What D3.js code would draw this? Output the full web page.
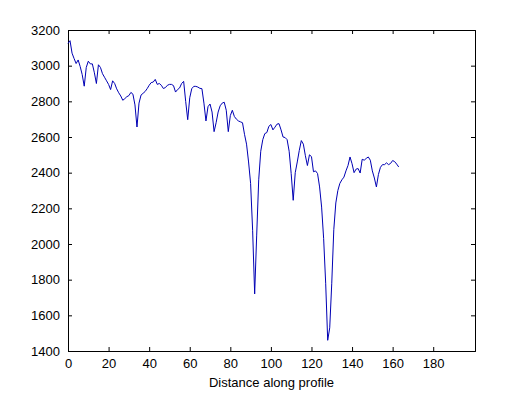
<!DOCTYPE html>
<html>
<head>
<meta charset="utf-8">
<script src="https://cdn.jsdelivr.net/npm/d3@7"></script>
<style>
  body { margin: 0; background: #fff; }
  svg text { font-family: "Liberation Sans", Arial, Helvetica, sans-serif; font-size: 13px; fill: #000; }
</style>
</head>
<body>
<div id="chart"></div>
<script>
// profile elevations, one reading per unit of distance (0..163)
var distance = d3.range(0, 164);
var elevation = [
  3125, 3140, 3070, 3040, 3012, 3032, 2995, 2950, 2885, 2990,
  3025, 3010, 3010, 2960, 2900, 3005, 2990, 2955, 2935, 2915,
  2895, 2866, 2915, 2900, 2870, 2848, 2830, 2806, 2815, 2826,
  2832, 2850, 2840, 2780, 2656, 2790, 2835, 2845, 2855, 2871,
  2890, 2905, 2908, 2923, 2895, 2900, 2890, 2872, 2877, 2890,
  2895, 2895, 2888, 2852, 2866, 2875, 2900, 2912, 2800, 2697,
  2820, 2871, 2884, 2884, 2880, 2873, 2871, 2790, 2690, 2770,
  2785, 2740, 2630, 2680, 2740, 2775, 2790, 2795, 2750, 2630,
  2720, 2750, 2715, 2700, 2690, 2685, 2680, 2615, 2560, 2460,
  2340, 2077, 1720, 2050, 2360, 2520, 2585, 2619, 2625, 2660,
  2670, 2640, 2655, 2672, 2675, 2640, 2600, 2597, 2585, 2520,
  2395, 2245, 2400, 2460, 2525, 2580, 2560, 2495, 2440, 2500,
  2490, 2405, 2410, 2395, 2320, 2207, 2030, 1780, 1460, 1530,
  1780, 2080, 2230, 2300, 2340, 2360, 2375, 2410, 2440, 2488,
  2450, 2400, 2420, 2423, 2398, 2475, 2470, 2480, 2488, 2470,
  2410, 2370, 2320, 2390, 2430, 2445, 2445, 2455, 2445, 2452,
  2468, 2462, 2448, 2432
];
var xTicks = [0, 20, 40, 60, 80, 100, 120, 140, 160, 180];
var yTicks = [1400, 1600, 1800, 2000, 2200, 2400, 2600, 2800, 3000, 3200];

// figure size and axes box (matlab-like default position)
var W = 525, H = 394;
var margin = {top: 30, right: 50, bottom: 43, left: 68};
var width = W - margin.left - margin.right,
    height = H - margin.top - margin.bottom;

var svg = d3.select("#chart")
    .append("svg")
    .attr("width", W)
    .attr("height", H)
    .append("g")
    .attr("transform", "translate(" + margin.left + "," + margin.top + ")");

var x = d3.scaleLinear().domain([0, 200.6]).range([0, width]);
var y = d3.scaleLinear().domain([1400, 3200]).range([height, 0]);

// axes with inward ticks
var tick = 4;
svg.append("g")
    .attr("transform", "translate(0," + height + ")")
    .call(d3.axisBottom(x).tickValues(xTicks).tickSize(-tick).tickPadding(8).tickFormat(d3.format("d")));
svg.append("g")
    .call(d3.axisTop(x).tickValues(xTicks).tickSize(-tick).tickFormat(""));
svg.append("g")
    .call(d3.axisLeft(y).tickValues(yTicks).tickSize(-tick).tickPadding(8).tickFormat(d3.format("d")));
svg.append("g")
    .attr("transform", "translate(" + width + ",0)")
    .call(d3.axisRight(y).tickValues(yTicks).tickSize(-tick).tickFormat(""));

svg.selectAll(".domain").attr("stroke", "#000").attr("stroke-width", 1);
svg.selectAll(".tick line").attr("stroke", "#000");
svg.selectAll(".tick text").style("font-size", "13px");

// x axis label
svg.append("text")
    .attr("x", width / 2)
    .attr("y", height + 36)
    .style("text-anchor", "middle")
    .text("Distance along profile");

// profile line
var data = distance.map(function (d, i) { return {d: d, e: elevation[i]}; });
svg.append("path")
    .datum(data)
    .attr("fill", "none")
    .attr("stroke", "#0000b4")
    .attr("stroke-width", 1)
    .attr("d", d3.line()
        .x(function (d) { return x(d.d); })
        .y(function (d) { return y(d.e); }));
</script>
</body>
</html>
